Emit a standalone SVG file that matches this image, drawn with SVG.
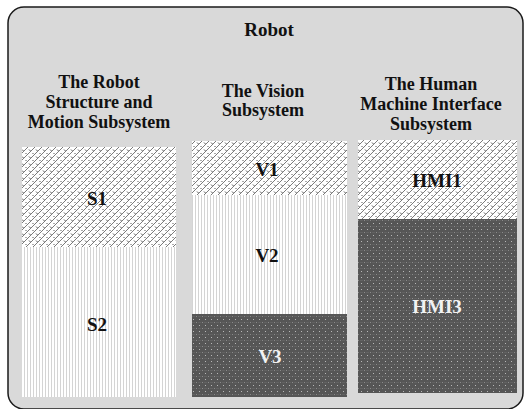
<svg xmlns="http://www.w3.org/2000/svg" width="527" height="409" viewBox="0 0 527 409">
<style>
.t{font-family:"Liberation Serif","Times New Roman",serif;font-weight:bold;font-size:18px;fill:#111;text-anchor:middle}
.l{font-family:"Liberation Serif","Times New Roman",serif;font-weight:bold;font-size:19px;fill:#111;text-anchor:middle}
.w{fill:#f2f2f2}
</style>
<defs>
<pattern id="hatch" width="7" height="7" patternUnits="userSpaceOnUse">
<rect width="7" height="7" fill="#fff"/>
<path d="M-1,8 L8,-1 M-1,1 L1,-1 M6,8 L8,6" stroke="#7a7a7a" stroke-width="1"/>
<path d="M1,2.5 L2.5,4 M4.5,6 L6,7.5" stroke="#2a2a2a" stroke-width="0.8"/>
</pattern>
<pattern id="vstripe" width="3" height="4" patternUnits="userSpaceOnUse">
<rect width="3" height="4" fill="#fff"/>
<rect x="0" width="1" height="4" fill="#d4d4d4"/>
</pattern>
<pattern id="dots" width="6" height="6" patternUnits="userSpaceOnUse">
<rect width="6" height="6" fill="#565656"/>
<rect x="1" y="1" width="1" height="1" fill="#b8b8b8"/>
<rect x="4" y="4" width="1" height="1" fill="#8a8a8a"/>
<rect x="0" y="4" width="3" height="1" fill="#626262"/>
</pattern>
</defs>
<rect x="8" y="7" width="515" height="402" rx="16" fill="#d9d9d9" stroke="#1a1a1a" stroke-width="1.5"/>
<text class="t" x="269" y="36" style="font-size:19px">Robot</text>
<g id="col-structure">
<text class="t" x="99" y="88">The Robot</text>
<text class="t" x="99" y="108">Structure and</text>
<text class="t" x="99" y="128">Motion Subsystem</text>
</g>
<g id="col-vision">
<text class="t" x="263" y="97">The Vision</text>
<text class="t" x="263" y="116">Subsystem</text>
</g>
<g id="col-hmi">
<text class="t" x="431" y="90">The Human</text>
<text class="t" x="431" y="110">Machine Interface</text>
<text class="t" x="431" y="130">Subsystem</text>
</g>
<g id="S1"><rect x="22" y="147" width="154" height="100" fill="url(#hatch)"/><text class="l" x="97" y="205">S1</text></g>
<g id="S2"><rect x="22" y="247" width="154" height="150" fill="url(#vstripe)"/><text class="l" x="97" y="331">S2</text></g>
<g id="V1"><rect x="192" y="141" width="155" height="54" fill="url(#hatch)"/><text class="l" x="267" y="176">V1</text></g>
<g id="V2"><rect x="192" y="195" width="155" height="119" fill="url(#vstripe)"/><text class="l" x="267" y="262">V2</text></g>
<g id="V3"><rect x="192" y="314" width="155" height="83" fill="url(#dots)"/><text class="l w" x="270" y="363">V3</text></g>
<g id="HMI1"><rect x="358" y="140" width="159" height="79" fill="url(#hatch)"/><text class="l" x="437" y="187">HMI1</text></g>
<g id="HMI3"><rect x="358" y="219" width="159" height="174" fill="url(#dots)"/><text class="l w" x="437" y="313">HMI3</text></g>
<g id="connectors"/>
</svg>
